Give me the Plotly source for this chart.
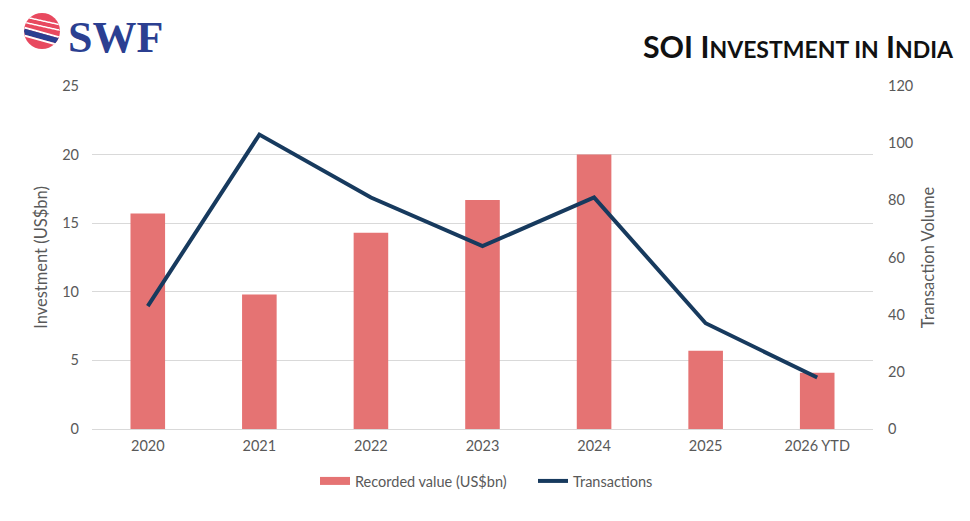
import math
import plotly.graph_objects as go

years = ["2020", "2021", "2022", "2023", "2024", "2025", "2026 YTD"]
recorded_value = [15.7, 9.8, 14.3, 16.7, 20.0, 5.7, 4.1]
transactions = [43, 103, 81, 64, 81, 37, 18]

W, H = 970, 521
L, R, T, B = 92, 97, 86, 92
PW, PH = W - L - R, H - T - B


def px(x):
    return (x - L) / PW


def py(y):
    return (H - B - y) / PH


FONT = "Lato, 'Open Sans', sans-serif"
GREY = "#595959"
BAR = "#e57373"
NAVY = "#173a5e"

fig = go.Figure()
fig.add_trace(go.Bar(
    x=years, y=recorded_value, name="Recorded value (US$bn)", showlegend=False,
    marker=dict(color=BAR, line=dict(width=0)), width=0.31, yaxis="y",
))
# legend proxy for the bar series (wide swatch like the reference)
fig.add_trace(go.Scatter(
    x=[None], y=[None], name="Recorded value (US$bn)", mode="lines",
    line=dict(color=BAR, width=8), yaxis="y",
))
fig.add_trace(go.Scatter(
    x=years, y=transactions, name="Transactions", mode="lines",
    line=dict(color=NAVY, width=4), yaxis="y2",
))

fig.update_layout(
    width=W, height=H,
    margin=dict(l=L, r=R, t=T, b=B),
    paper_bgcolor="white", plot_bgcolor="white",
    font=dict(family=FONT, color=GREY, size=14),
    xaxis=dict(type="category", range=[-0.5, 6.5], showgrid=False,
               showline=True, linecolor="#d9d9d9", linewidth=1,
               ticks="", tickfont=dict(size=14.5, color=GREY), ticklabelstandoff=4),
    yaxis=dict(range=[0, 25], dtick=5, showgrid=True, gridcolor="#d9d9d9",
               gridwidth=1, zeroline=False, ticks="", tickfont=dict(size=14.5, color=GREY),
               ticklabelstandoff=12,
               title=dict(text="Investment (US$bn)", font=dict(size=16.5, color=GREY), standoff=10)),
    yaxis2=dict(range=[0, 120], dtick=20, overlaying="y", side="right", showgrid=False,
                zeroline=False, ticks="", tickfont=dict(size=14.5, color=GREY),
                ticklabelstandoff=14,
                title=dict(text="Transaction Volume", font=dict(size=16.5, color=GREY), standoff=10)),
    showlegend=True,
    legend=dict(orientation="h", x=px(315), xanchor="left", y=py(481), yanchor="middle",
                font=dict(size=14.5, color=GREY), traceorder="normal",
                entrywidth=173, entrywidthmode="pixels", itemwidth=30),
    bargap=0.69,
)

# Title with small caps effect
title = ("<b>SOI I<span style='font-size:23px'>NVESTMENT IN</span> "
         "I<span style='font-size:23px'>NDIA</span></b>")
fig.add_annotation(text=title, xref="paper", yref="paper", x=px(956), y=py(46),
                   xanchor="right", yanchor="middle", showarrow=False,
                   font=dict(family=FONT, size=30.3, color="#111111"))

# Logo text
fig.add_annotation(text="<b>SWF</b>", xref="paper", yref="paper", x=px(66), y=py(37),
                   xanchor="left", yanchor="middle", showarrow=False,
                   font=dict(family="Liberation Serif, serif", size=44, color="#2b3f91"))

# Logo globe
cx, cy, r = 42, 31, 18
fig.add_shape(type="circle", xref="paper", yref="paper",
              x0=px(cx - r), x1=px(cx + r), y0=py(cy + r), y1=py(cy - r),
              fillcolor="#e8495f", line=dict(width=0), layer="above")


def band(top, bot, color):
    """Region of the globe between two slanted lines (pixel coords), clipped to the circle."""
    n = 40
    upper, lower = [], []
    for i in range(n + 1):
        x = cx - r + 2 * r * i / n
        h = math.sqrt(max(r * r - (x - cx) ** 2, 0))
        lo, hi = cy - h, cy + h
        t = top[0] + (top[1] - top[0]) * (x - (cx - r)) / (2 * r)
        b = bot[0] + (bot[1] - bot[0]) * (x - (cx - r)) / (2 * r)
        upper.append((x, min(max(t, lo), hi)))
        lower.append((x, min(max(b, lo), hi)))
    pts = upper + lower[::-1]
    path = "M " + " L ".join(f"{px(a):.5f},{py(c):.5f}" for a, c in pts) + " Z"
    fig.add_shape(type="path", xref="paper", yref="paper", path=path,
                  fillcolor=color, line=dict(width=0), layer="above")


band((16, 24), (17.5, 25.5), "white")
band((21.5, 29.5), (23, 31), "white")
band((26.5, 36.5), (28.5, 38.5), "white")
band((28.5, 38.5), (34.5, 44.5), "#2b3f91")
band((34.5, 44.5), (36.5, 46.5), "white")

fig.write_html("out.html")
